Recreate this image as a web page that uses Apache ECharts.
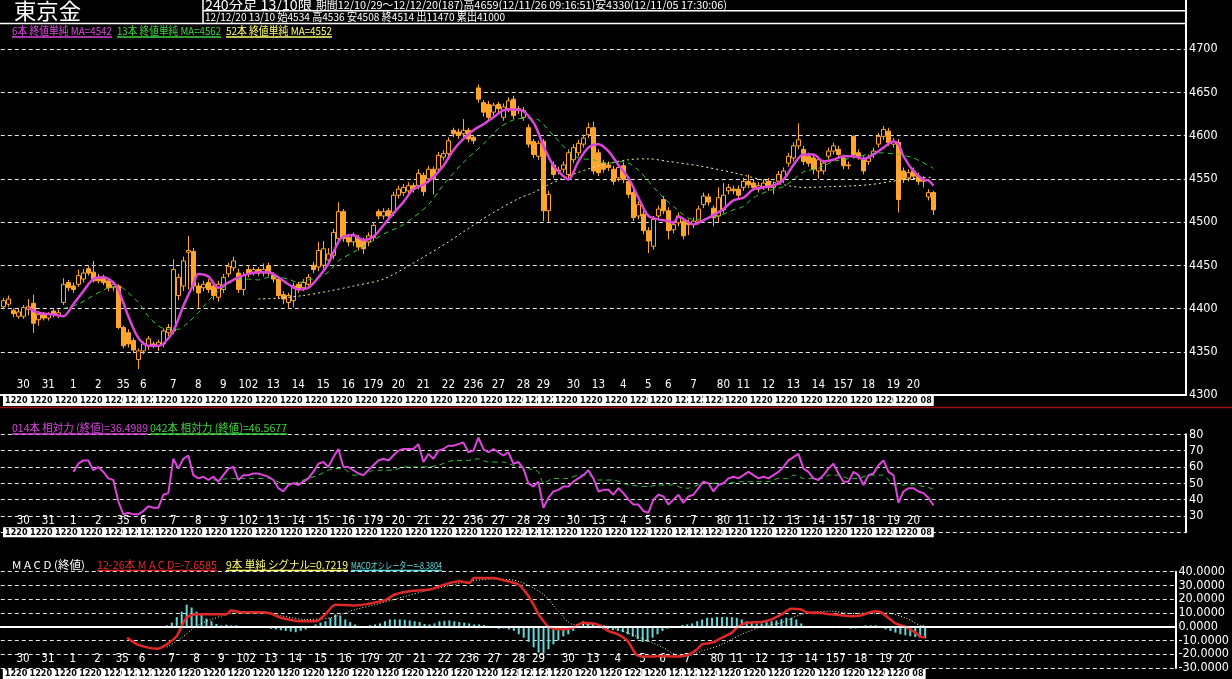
<!DOCTYPE html>
<html><head><meta charset="utf-8">
<script src="https://cdn.jsdelivr.net/npm/echarts@6/dist/echarts.min.js"></script>
<style>html,body{margin:0;padding:0;background:#000}#c{width:1232px;height:679px}</style>
</head><body><div id="c"></div>
<script>
// ---------- DATA ----------
const openP = [4402,4405,4398,4391,4391,4399,4406,4387,4393,4389,4397,4392,4407,4430,4426,4428,4434,4446,4442,4436,
4436,4432,4424,4426,4378,4372,4363,4341,4351,4357,4359,4357,4359,4372,4374,4415,4426,4465,4466,4426,
4424,4430,4426,4413,4422,4440,4447,4441,4422,4445,4442,4445,4441,4449,4439,4434,4416,4407,4409,4428,
4424,4428,4450,4448,4450,4456,4461,4481,4512,4482,4477,4481,4479,4477,4482,4512,4507,4513,4511,4531,
4534,4536,4542,4542,4554,4550,4561,4561,4575,4579,4606,4604,4602,4606,4598,4655,4638,4636,4627,4636,
4621,4631,4642,4629,4621,4609,4593,4576,4593,4513,4566,4560,4561,4555,4572,4580,4590,4601,4609,4580,
4568,4566,4561,4551,4565,4547,4534,4507,4509,4490,4472,4507,4526,4513,4491,4499,4501,4499,4497,4501,
4520,4529,4516,4507,4514,4536,4538,4538,4540,4547,4545,4538,4541,4547,4540,4547,4549,4568,4574,4588,
4584,4576,4574,4559,4559,4576,4582,4584,4574,4566,4599,4580,4572,4570,4578,4590,4599,4605,4590,4592,
4559,4551,4559,4553,4547,4529,4534];
const closeP = [4409,4411,4394,4396,4401,4402,4383,4393,4389,4393,4393,4395,4428,4424,4422,4438,4441,4441,4432,4432,
4430,4424,4428,4378,4357,4359,4352,4351,4359,4365,4357,4361,4374,4378,4445,4436,4455,4467,4426,4418,
4428,4422,4415,4428,4436,4449,4455,4422,4438,4440,4445,4441,4445,4441,4434,4415,4411,4415,4426,4422,
4430,4436,4445,4467,4469,4463,4488,4512,4481,4477,4484,4471,4469,4484,4496,4507,4512,4507,4531,4538,
4540,4542,4538,4556,4535,4561,4550,4577,4579,4594,4602,4600,4606,4596,4594,4642,4627,4621,4635,4631,
4633,4640,4623,4631,4629,4590,4578,4591,4513,4532,4555,4559,4566,4580,4586,4591,4597,4609,4559,4557,
4561,4563,4547,4563,4549,4532,4505,4520,4490,4478,4503,4515,4513,4490,4497,4507,4484,4497,4501,4515,
4530,4523,4505,4528,4531,4540,4536,4531,4547,4543,4540,4542,4545,4540,4543,4555,4559,4576,4588,4595,
4570,4568,4561,4572,4568,4582,4588,4578,4565,4565,4578,4576,4559,4574,4582,4599,4607,4592,4593,4526,
4549,4557,4553,4547,4549,4534,4514];
const lowP = [4399,4402,4390,4388,4388,4392,4372,4380,4386,4386,4390,4389,4404,4420,4418,4425,4430,4438,4430,4429,
4427,4420,4420,4376,4354,4355,4348,4330,4347,4352,4354,4351,4355,4368,4370,4410,4420,4422,4420,4400,
4420,4418,4410,4408,4418,4436,4443,4418,4415,4436,4438,4438,4437,4437,4430,4411,4405,4400,4401,4418,
4420,4425,4441,4443,4446,4450,4457,4476,4477,4472,4472,4467,4463,4472,4478,4503,4503,4503,4507,4527,
4530,4532,4534,4538,4530,4545,4532,4557,4571,4575,4598,4596,4598,4592,4590,4638,4622,4617,4623,4627,
4617,4627,4619,4625,4617,4586,4574,4572,4501,4500,4551,4555,4557,4549,4568,4576,4586,4597,4555,4553,
4557,4559,4543,4547,4545,4528,4501,4503,4486,4464,4468,4503,4509,4480,4487,4495,4480,4485,4493,4497,
4516,4519,4495,4500,4510,4532,4532,4527,4536,4539,4536,4534,4537,4536,4532,4543,4545,4564,4570,4584,
4566,4564,4555,4550,4555,4572,4578,4574,4561,4561,4574,4572,4555,4566,4574,4586,4595,4588,4586,4511,
4545,4547,4549,4543,4540,4525,4508];
const highP = [4412,4415,4400,4401,4404,4411,4416,4397,4396,4396,4400,4399,4435,4433,4430,4445,4446,4449,4455,4440,
4439,4435,4432,4428,4380,4376,4366,4354,4362,4368,4362,4364,4377,4382,4457,4440,4460,4484,4470,4430,
4432,4434,4430,4432,4440,4453,4460,4446,4442,4450,4448,4448,4452,4453,4442,4437,4420,4418,4430,4431,
4434,4440,4454,4477,4478,4470,4492,4523,4515,4486,4488,4485,4482,4488,4500,4515,4516,4516,4535,4542,
4544,4546,4545,4561,4557,4565,4564,4581,4583,4598,4609,4608,4619,4609,4601,4659,4641,4640,4638,4639,
4637,4644,4646,4634,4633,4613,4596,4594,4596,4536,4570,4564,4570,4584,4590,4595,4601,4615,4616,4584,
4572,4570,4565,4567,4569,4551,4538,4524,4513,4494,4507,4519,4530,4517,4501,4511,4505,4503,4505,4519,
4534,4533,4519,4540,4545,4544,4542,4542,4551,4555,4549,4546,4549,4551,4547,4559,4563,4580,4592,4614,
4588,4580,4578,4576,4572,4586,4592,4588,4578,4570,4600,4584,4576,4578,4586,4603,4611,4609,4597,4596,
4563,4561,4563,4557,4553,4538,4536];

const ma6Idx = [5,7,10,12,14,16,18,20,22,23,25,27,29,31,32,34,36,38,39,41,43,45,47,49,51,53,55,57,59,61,63,65,67,68,70,72,74,76,78,80,82,84,86,88,90,92,94,96,98,100,102,104,106,107,108,110,112,113,115,117,119,121,123,125,127,129,131,133,134,135,137,138,140,142,144,146,148,150,152,154,156,158,160,162,164,166,168,170,172,174,176,178,179,180,182,184,185,186];
const ma6Val = [4401,4395,4393,4391,4405,4420,4434,4436,4430,4422,4391,4366,4357,4357,4359,4374,4403,4428,4440,4437,4424,4430,4436,4440,4442,4442,4436,4428,4422,4424,4436,4452,4477,4483,4485,4479,4483,4496,4510,4523,4538,4543,4552,4565,4583,4596,4606,4613,4621,4629,4630,4628,4615,4603,4588,4565,4553,4549,4570,4586,4590,4582,4566,4551,4528,4507,4503,4501,4499,4506,4500,4497,4502,4508,4515,4525,4528,4538,4540,4542,4549,4566,4578,4578,4570,4572,4576,4576,4573,4578,4586,4593,4590,4576,4559,4549,4548,4542];
const ma13Idx = [12,15,18,21,23,25,27,29,31,33,35,37,39,41,43,45,47,49,51,53,55,57,59,61,63,65,67,70,73,76,80,85,88,92,96,99,102,105,107,110,113,115,118,121,124,127,129,131,134,138,143,146,148,150,153,156,158,160,163,166,170,175,179,182,186];
const ma13Val = [4400,4405,4415,4424,4426,4418,4407,4391,4380,4376,4376,4384,4395,4409,4420,4428,4434,4434,4433,4436,4436,4434,4430,4433,4436,4442,4455,4465,4475,4486,4497,4520,4543,4569,4590,4608,4618,4620,4618,4600,4582,4574,4572,4568,4570,4560,4547,4534,4518,4503,4507,4514,4518,4528,4536,4541,4549,4558,4562,4570,4574,4580,4578,4574,4562];
const ma52Idx = [51,55,60,65,70,76,83,89,96,103,106,109,113,119,125,129,133,139,146,153,160,166,173,180,186];
const ma52Val = [4411,4412,4415,4420,4426,4434,4456,4477,4504,4527,4534,4543,4553,4565,4572,4573,4570,4565,4557,4547,4540,4541,4543,4549,4552];

const rsi14Start = 14;
const rsi14Val = [57,62,64,64,58,60,57,53,52,39, 31,32,31,31,33,36,35,35,43,44, 65,59,65,67,55,53,54,52,54,51,
55,59,60,52,55,55,56,56,55,54, 52,47,45,49,50,49,51,53,57,62, 63,60,66,71,60,60,58,56,55,58,
61,64,65,64,67,70,71,71,71,74, 63,68,65,70,71,73,73,74,75,
69,70,78,71,69,71,69,67,69,62, 63,59,50,48,51,35,41,45,46,48, 48,51,53,55,58,53,45,46,46,43,
47,44,40,37,37,33,32,40,43,42, 37,40,43,38,42,43,47,51,50,45, 49,50,53,54,53,55,57,55,53,54,
53,55,57,60,64,66,68,59,57,53, 52,55,59,62,56,51,51,57,55,49, 55,56,61,64,57,55,38,45,47,47,
45,44,41,36.5];
const rsi42Idx = [42,46,50,53,56,58,60,63,66,68,70,72,74,78,80,83,85,87,90,93,95,97,100,102,105,107,108,110,113,115,117,119,122,125,129,131,134,136,137,140,145,147,150,153,155,157,158,160,164,165,167,169,171,173,176,178,180,182,186];
const rsi42Val = [52,53,53,53,50,50,52,55,59,59,55,55,58,58,60,60,60,61,64,64,65,63,63,61,59,57,50,53,53,55,55,52,52,49,48,49,49,47,47,50,50,51,51,51,53,53,55,53,53,55,55,53,53,55,55,49,49,49,46.6];

const macdIdx = [25,27,29,31,33,35,36,37,39,42,45,46,48,52,54,56,60,63,65,67,71,74,77,79,82,86,89,92,94,95,99,101,104,105,106,107,108,109,110,112,115,117,120,122,124,126,127,128,131,133,135,138,140,141,143,145,147,148,150,153,155,157,159,161,162,165,167,169,171,173,176,177,179,180,182,184,185,186];
const macdVal = [-8,-12.8,-15,-16,-12.8,-6.7,0.5,6.5,9,9,9,11.8,10.6,10.6,9.6,6.5,4,4,9,16,15.4,16.9,19.3,23.4,25.8,27,30.6,33,31.8,35.4,35.4,33.7,30.6,27,22,16,9,4,0,-1.9,-0.7,2.9,1.5,-3,-5.5,-10.4,-16.4,-21,-21.7,-21.2,-21.7,-20.7,-16.4,-12.8,-11.6,-8,-4.3,-0.7,2.9,3.4,5.3,9,13,12.5,10.6,10,9,8.4,7.7,8.2,11.3,10.6,5.3,2.4,0,-4.3,-7.2,-7.66];
const sigIdx = [33,36,39,42,47,52,56,61,66,71,75,80,85,90,94,99,104,109,112,115,118,121,124,129,133,136,138,141,145,149,153,157,160,163,167,171,175,178,182,185,186];
const sigVal = [-15,-8,0.5,5.3,10,10,8,5.3,6.5,12.5,16,21,25.8,29.9,33,34.7,33,23.4,11.3,1.7,1.7,1,-2,-8.7,-15,-20.7,-21.2,-17.6,-12.8,-5.5,0,2.9,7.7,10.6,11.3,9.6,10,10,6.5,1,0.72];
const histStart = 33;
const histVal = [1,3,7,11,16,14,11,9,6,4, 2,1,1.5,1,1,0.5,0.5,0.3,0,-0.3, -0.7,-1.5,-2,-2.6,-3,-3.5,-4,-3,-2,-0.5,
1.7,3,4,6.5,9,8,5.3,3.4,1.7,0.3, 0.5,1,1.7,2.4,4,5.3,5.3,5.3,5,4.6, 4,3.4,2,1.7,2.4,4,4.3,4.6,4,3.4,
3,2.4,1.7,1.7,1.2,0.5,-1,-1.5,-1.2,-2, -3,-5.5,-8,-11,-15,-18.8,-19.5,-16.4,-12.8,-10,
-7,-5.5,-3,1.7,4,3.4,2.4,1,-1.4,-1.9, -2.4,-3,-3.9,-5.5,-7.2,-9,-11,-11,-8,-5.5,
-3.1,-1.4,-0.7,0.5,1.2,1.7,2.4,4,5.3,6.5, 6.5,7,7,7,7,6.5,5.3,4,2.9,2.4, 2.4,3.4,4,4.6,5.5,6.5,6.5,5.3,2.4,0.5,
0.5,0.5,0.5,0,-0.5,-0.7,-0.7,-0.7,-1.4,-1.2, 0.5,1,1,1,0.5,-1.9,-3.1,-4.3,-5.5,-6.2, -6.9,-7.5,-8,-8.38];

const dayIdx = [4,9,14,19,24,28,34,39,44,49,54,59,64,69,74,79,84,89,94,99,104,108,114,119,124,129,133,138,144,148,153,158,163,168,173,178,182];
const dayText = ['30','31','1','2','35','6','7','8','9','102','13','14','15','16','179','20','21','22','236','27','28','29','30','13','4','5','6','7','80','11','12','13','14','157','18','19','20'];
const stripIdx = [2,4,9,14,19,24,28,31,34,39,44,49,54,59,64,69,74,79,84,89,94,99,104,108,111,114,119,124,129,133,138,141,144,148,153,158,163,168,173,178,182,185];
const stripText = '1220 08';

// ---------- BUILD ----------
const SLOTS = 237;
const cats = Array.from({length: SLOTS}, (_, i) => 'b' + i);
const candles = openP.map((o, i) => [o, closeP[i], lowP[i], highP[i]]);
const pairs = (idx, val) => idx.map((k, j) => [k, val[j]]);
const seqPairs = (start, val) => val.map((v, j) => [start + j, v]);
const dayMap = {}; dayIdx.forEach((k, j) => { dayMap[k] = dayText[j]; });
const stripSet = new Set(stripIdx);

const ORANGE = '#ffa42c', MAG = '#dc46dc', GREEN = '#3fd43f', YEL = '#ffff70', RED = '#e02828', CYAN = '#62d8d8';
const NARROW = '"Liberation Sans Narrow","DejaVu Sans Condensed","Arial Narrow",sans-serif';
const JP = '"Noto Sans CJK JP","Noto Sans",sans-serif';

const grids = [
  {left: 0, right: 46, top: 49, height: 346},
  {left: 0, right: 46, top: 434.3, height: 98},
  {left: 0, right: 46, top: 571.7, height: 96.3}
];

function dayAxis(g, margin, line) {
  return {type: 'category', gridIndex: g, data: cats, boundaryGap: true, position: 'bottom',
    axisLine: {show: line, lineStyle: {color: '#fff', width: 2}}, axisTick: {show: false}, splitLine: {show: false},
    axisLabel: {inside: true, margin: margin, color: '#fff', fontSize: 11.5, fontFamily: NARROW,
      interval: (i) => dayMap[i] !== undefined, formatter: (v, i) => dayMap[i] || ''}};
}
function stripAxis(g, offset) {
  return {type: 'category', gridIndex: g, data: cats, boundaryGap: true, position: 'bottom', offset: offset,
    axisLine: {show: false}, axisTick: {show: false}, splitLine: {show: false},
    axisLabel: {margin: 1, color: '#000', backgroundColor: '#fff', fontSize: 9, fontWeight: 'bold', fontFamily: NARROW,
      lineHeight: 10, height: 10, padding: [0, 2], align: 'center',
      interval: (i) => stripSet.has(i), formatter: () => stripText}};
}
const dashed = {show: true, lineStyle: {color: '#e8e8e8', type: [4, 3], width: 1}};
function yAx(g, min, max, interval, fmt) {
  return {type: 'value', gridIndex: g, position: 'right', min, max, interval, scale: false,
    axisLine: {show: true, lineStyle: {color: '#fff', width: 2}}, axisTick: {show: false}, splitLine: dashed,
    axisLabel: {color: '#fff', fontSize: 12.5, fontFamily: NARROW, margin: 3, padding: [0, 0, 8, 0], formatter: fmt}};
}

// text helpers
const mctx = document.createElement('canvas').getContext('2d');
function fitText(t, x, y, w, size, color) {
  const font = size + 'px ' + JP;
  mctx.font = font;
  const mw = mctx.measureText(t).width || w;
  return {type: 'text', x: x, y: y, scaleX: w / mw, z: 10,
    style: {text: t, font: font, fill: color, textVerticalAlign: 'top', verticalAlign: 'top'}};
}
function uline(x, y, w, color, lw) {
  return {type: 'line', z: 10, shape: {x1: x, y1: y, x2: x + w, y2: y}, style: {stroke: color, lineWidth: lw || 1.5}};
}
function wline(x1, y1, x2, y2, color, lw) {
  return {type: 'line', z: 10, shape: {x1, y1, x2, y2}, style: {stroke: color, lineWidth: lw}};
}

const graphics = [];
graphics.push(fitText('東京金', 14, 0, 67, 22, '#fff'));
graphics.push(wline(203, 0, 203, 23.5, '#fff', 1.5));
graphics.push(wline(203, 10.7, 1187, 10.7, '#fff', 1.5));
graphics.push(wline(0, 23.5, 1187, 23.5, '#fff', 1.5));
graphics.push(wline(1186, 0, 1186, 50, '#fff', 2));
graphics.push(fitText('240分足 13/10限', 205, -1.5, 107, 12.5, '#fff'));
graphics.push(fitText('期間12/10/29～12/12/20(187)高4659(12/11/26 09:16:51)安4330(12/11/05 17:30:06)', 316, -0.5, 411, 11, '#fff'));
graphics.push(fitText('12/12/20 13/10 始4534 高4536 安4508 終4514 出11470 累出41000', 205, 11.5, 300, 11, '#fff'));
graphics.push(wline(0, 407.5, 1232, 407.5, '#9a1616', 1.5));

const legends = [
  {t: '6本 終値単純 MA=4542', x: 12, y: 25.5, w: 100, c: MAG, u: 37},
  {t: '13本 終値単純 MA=4562', x: 117, y: 25.5, w: 104, c: GREEN, u: 37},
  {t: '52本 終値単純 MA=4552', x: 226, y: 25.5, w: 106, c: YEL, u: 37},
  {t: '014本 相対力 (終値)=36.4989', x: 12, y: 422.5, w: 136, c: MAG, u: 434},
  {t: '042本 相対力 (終値)=46.5677', x: 150, y: 422.5, w: 137, c: GREEN, u: 434},
  {t: 'M A C D (終値)', x: 12, y: 559.5, w: 73, c: '#fff', u: 0},
  {t: '12-26本 M A C D=-7.6585', x: 97, y: 559.5, w: 120, c: RED, u: 570.5},
  {t: '9本 単純 シグナル=0.7219', x: 226, y: 559.5, w: 122, c: YEL, u: 570.5},
  {t: 'MACDオシレーター=-8.3804', x: 351, y: 561, w: 91, c: CYAN, u: 570.5, s: 9.5}
];
legends.forEach(L => {
  graphics.push(fitText(L.t, L.x, L.y, L.w, L.s || 11, L.c));
  if (L.u) graphics.push(uline(L.x, L.u, L.w, L.c, 1.5));
});

const option = {
  backgroundColor: '#000',
  animation: false,
  grid: grids,
  xAxis: [dayAxis(0, 3.5, true), stripAxis(0, 0), dayAxis(1, 5, false), stripAxis(1, -6), dayAxis(2, 2.5, true), stripAxis(2, 0)],
  yAxis: [
    yAx(0, 4300, 4700, 50, v => String(v)),
    yAx(1, 20, 80, 10, v => v === 20 ? '' : String(v)),
    yAx(2, -30, 40, 10, v => v.toFixed(4))
  ],
  series: [
    {type: 'candlestick', xAxisIndex: 0, yAxisIndex: 0, data: candles, barWidth: 4,
      itemStyle: {color: '#000', color0: ORANGE, borderColor: ORANGE, borderColor0: ORANGE, borderWidth: 1}},
    {type: 'line', xAxisIndex: 0, yAxisIndex: 0, data: pairs(ma52Idx, ma52Val), symbol: 'none', smooth: 0.3,
      lineStyle: {color: '#f4f4a0', width: 1, type: [2, 3]}},
    {type: 'line', xAxisIndex: 0, yAxisIndex: 0, data: pairs(ma13Idx, ma13Val), symbol: 'none', smooth: 0.3,
      lineStyle: {color: '#36c836', width: 1, type: [5, 4]}},
    {type: 'line', xAxisIndex: 0, yAxisIndex: 0, data: pairs(ma6Idx, ma6Val), symbol: 'none', smooth: 0.3,
      lineStyle: {color: MAG, width: 2.5}},
    {type: 'line', xAxisIndex: 2, yAxisIndex: 1, data: pairs(rsi42Idx, rsi42Val), symbol: 'none', smooth: 0.2,
      lineStyle: {color: '#36c836', width: 1, type: [5, 4]}},
    {type: 'line', xAxisIndex: 2, yAxisIndex: 1, data: seqPairs(rsi14Start, rsi14Val), symbol: 'none',
      lineStyle: {color: MAG, width: 2}},
    {type: 'bar', xAxisIndex: 4, yAxisIndex: 2, data: seqPairs(histStart, histVal), barWidth: 2,
      itemStyle: {color: CYAN},
      markLine: {silent: true, symbol: ['none', 'none'], label: {show: false},
        lineStyle: {color: '#fff', type: 'solid', width: 1.5}, data: [{yAxis: 0}]}},
    {type: 'line', xAxisIndex: 4, yAxisIndex: 2, data: pairs(sigIdx, sigVal), symbol: 'none', smooth: 0.3,
      lineStyle: {color: '#ffffaa', width: 1, type: [1, 2]}},
    {type: 'line', xAxisIndex: 4, yAxisIndex: 2, data: pairs(macdIdx, macdVal), symbol: 'none', smooth: 0.3,
      lineStyle: {color: RED, width: 2.5}}
  ],
  graphic: graphics
};
const chart = echarts.init(document.getElementById('c'), null, {renderer: 'canvas'});
chart.setOption(option);
</script>
</body></html>
